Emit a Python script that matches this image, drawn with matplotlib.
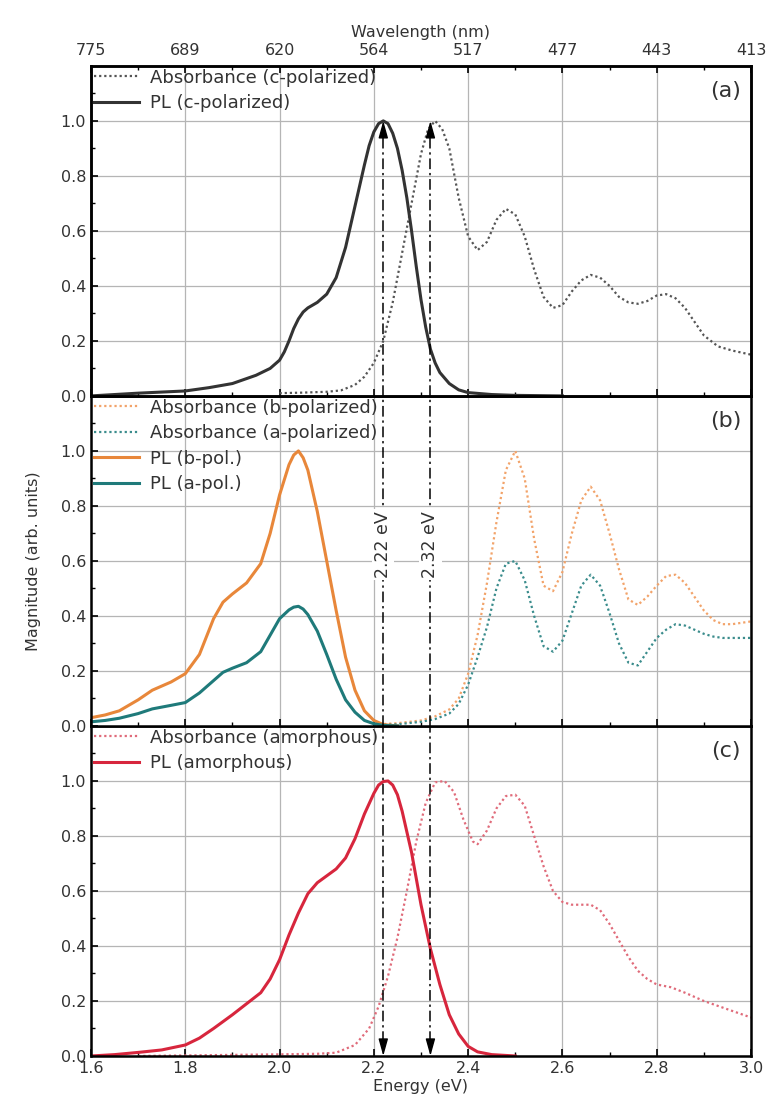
import numpy as np
import matplotlib.pyplot as plt
from matplotlib.ticker import FormatStrFormatter

# -----------------------------
# data (energy in eV, normalised magnitude)
# -----------------------------
# panel (a): c-polarized
E_pl_a = [1.60, 1.65, 1.70, 1.75, 1.80, 1.85, 1.90, 1.95, 1.98, 2.00, 2.01, 2.02, 2.03, 2.04,
          2.05, 2.06, 2.08, 2.10, 2.12, 2.14, 2.16, 2.18, 2.19, 2.20, 2.21, 2.22, 2.23, 2.24,
          2.25, 2.26, 2.27, 2.28, 2.29, 2.30, 2.31, 2.32, 2.33, 2.34, 2.36, 2.38, 2.40, 2.45,
          2.50, 2.60]
pl_c = [0.000, 0.005, 0.010, 0.014, 0.018, 0.030, 0.045, 0.075, 0.100, 0.130, 0.160, 0.200,
        0.245, 0.280, 0.305, 0.320, 0.340, 0.370, 0.430, 0.540, 0.690, 0.840, 0.910, 0.960,
        0.990, 1.000, 0.990, 0.955, 0.900, 0.820, 0.720, 0.600, 0.470, 0.350, 0.250, 0.170,
        0.120, 0.085, 0.045, 0.022, 0.012, 0.005, 0.002, 0.000]

E_abs_a = [2.00, 2.05, 2.10, 2.13, 2.16, 2.18, 2.20, 2.22, 2.24, 2.26, 2.28, 2.30, 2.315, 2.33,
           2.345, 2.36, 2.38, 2.40, 2.42, 2.44, 2.46, 2.48, 2.50, 2.52, 2.54, 2.56, 2.58, 2.60,
           2.62, 2.64, 2.66, 2.68, 2.70, 2.72, 2.74, 2.76, 2.78, 2.80, 2.82, 2.84, 2.86, 2.88,
           2.90, 2.93, 2.96, 3.00]
abs_c = [0.010, 0.012, 0.015, 0.020, 0.040, 0.070, 0.120, 0.200, 0.340, 0.520, 0.700, 0.880,
         0.970, 1.000, 0.970, 0.900, 0.720, 0.580, 0.530, 0.560, 0.640, 0.680, 0.660, 0.580,
         0.460, 0.360, 0.320, 0.330, 0.380, 0.420, 0.440, 0.430, 0.400, 0.360, 0.340, 0.335,
         0.345, 0.365, 0.370, 0.355, 0.320, 0.270, 0.220, 0.180, 0.165, 0.150]

# panel (b): b- and a-polarized
E_pl_b = [1.60, 1.63, 1.66, 1.70, 1.73, 1.77, 1.80, 1.83, 1.86, 1.88, 1.90, 1.93, 1.96, 1.98,
          2.00, 2.02, 2.03, 2.04, 2.05, 2.06, 2.08, 2.10, 2.12, 2.14, 2.16, 2.18, 2.20, 2.22,
          2.25]
pl_b = [0.030, 0.040, 0.055, 0.095, 0.130, 0.160, 0.190, 0.260, 0.390, 0.450, 0.480, 0.520,
        0.590, 0.700, 0.840, 0.950, 0.985, 1.000, 0.975, 0.930, 0.780, 0.600, 0.420, 0.250,
        0.130, 0.055, 0.020, 0.005, 0.000]
pl_a = [0.015, 0.020, 0.028, 0.045, 0.062, 0.075, 0.085, 0.120, 0.165, 0.195, 0.210, 0.230,
        0.270, 0.330, 0.390, 0.422, 0.432, 0.435, 0.425, 0.405, 0.345, 0.260, 0.170, 0.095,
        0.050, 0.020, 0.008, 0.002, 0.000]

E_abs_b = [2.20, 2.25, 2.30, 2.33, 2.36, 2.38, 2.40, 2.42, 2.44, 2.46, 2.48, 2.50, 2.52, 2.54,
           2.56, 2.58, 2.60, 2.62, 2.64, 2.66, 2.68, 2.70, 2.72, 2.74, 2.76, 2.78, 2.80, 2.82,
           2.84, 2.86, 2.88, 2.90, 2.92, 2.94, 2.96, 2.98, 3.00]
abs_b = [0.005, 0.010, 0.020, 0.035, 0.060, 0.100, 0.190, 0.330, 0.520, 0.740, 0.930, 1.000,
         0.900, 0.680, 0.510, 0.490, 0.560, 0.700, 0.820, 0.870, 0.820, 0.700, 0.570, 0.460,
         0.440, 0.470, 0.510, 0.545, 0.550, 0.520, 0.470, 0.420, 0.385, 0.370, 0.370, 0.375,
         0.380]
abs_a = [0.003, 0.006, 0.015, 0.025, 0.045, 0.080, 0.150, 0.250, 0.360, 0.500, 0.590, 0.600,
         0.530, 0.400, 0.290, 0.270, 0.310, 0.410, 0.510, 0.550, 0.510, 0.410, 0.300, 0.230,
         0.220, 0.270, 0.320, 0.350, 0.370, 0.365, 0.350, 0.335, 0.325, 0.320, 0.320, 0.320,
         0.320]

# panel (c): amorphous
E_pl_c = [1.60, 1.65, 1.70, 1.75, 1.80, 1.83, 1.86, 1.90, 1.93, 1.96, 1.98, 2.00, 2.02, 2.04,
          2.06, 2.08, 2.10, 2.12, 2.14, 2.16, 2.18, 2.20, 2.21, 2.22, 2.23, 2.24, 2.25, 2.26,
          2.28, 2.30, 2.32, 2.34, 2.36, 2.38, 2.40, 2.42, 2.45, 2.50]
pl_am = [0.000, 0.005, 0.013, 0.022, 0.040, 0.065, 0.100, 0.150, 0.190, 0.230, 0.280, 0.350,
         0.440, 0.520, 0.590, 0.630, 0.655, 0.680, 0.720, 0.790, 0.880, 0.955, 0.985, 0.998,
         1.000, 0.985, 0.950, 0.890, 0.740, 0.550, 0.390, 0.260, 0.150, 0.080, 0.035, 0.015,
         0.005, 0.000]

E_abs_c = [1.70, 1.80, 1.90, 2.00, 2.08, 2.12, 2.16, 2.19, 2.21, 2.23, 2.25, 2.27, 2.29, 2.31,
           2.33, 2.35, 2.37, 2.39, 2.41, 2.42, 2.44, 2.46, 2.48, 2.50, 2.52, 2.54, 2.56, 2.58,
           2.60, 2.62, 2.64, 2.66, 2.68, 2.70, 2.72, 2.74, 2.76, 2.78, 2.80, 2.83, 2.86, 2.90,
           2.95, 3.00]
abs_am = [0.000, 0.002, 0.004, 0.006, 0.008, 0.012, 0.040, 0.100, 0.180, 0.290, 0.430, 0.600,
          0.780, 0.920, 0.995, 1.000, 0.960, 0.860, 0.780, 0.770, 0.820, 0.900, 0.945, 0.950,
          0.910, 0.800, 0.690, 0.600, 0.560, 0.550, 0.550, 0.550, 0.530, 0.480, 0.420, 0.360,
          0.310, 0.280, 0.260, 0.250, 0.230, 0.200, 0.170, 0.140]

# band edge markers and tick labels
E_marks = [2.22, 2.32]
mark_labels = ['2.22 eV', '2.32 eV']
E_ticks = [1.6, 1.8, 2.0, 2.2, 2.4, 2.6, 2.8, 3.0]
wl_labels = ['775', '689', '620', '564', '517', '477', '443', '413']

# -----------------------------
# figure
# -----------------------------
plt.rcParams['font.family'] = 'DejaVu Sans'
plt.rcParams['font.size'] = 11.5
txt = '#333333'

fig = plt.figure(figsize=(7.7, 11.09), dpi=100)
left, width = 0.1182, 0.8571
h = 0.2976
bottom = 0.0478
ax_c = fig.add_axes([left, bottom, width, h])
ax_b = fig.add_axes([left, bottom + h, width, h], sharex=ax_c)
ax_a = fig.add_axes([left, bottom + 2 * h, width, h], sharex=ax_c)

dot = (0, (1, 1.3))

ax_a.plot(E_abs_a, abs_c, color='#555555', ls=dot, lw=1.6, label='Absorbance (c-polarized)')
ax_a.plot(E_pl_a, pl_c, color='#333333', lw=2.2, label='PL (c-polarized)')

ax_b.plot(E_abs_b, abs_b, color='#f2a36a', ls=dot, lw=1.6, label='Absorbance (b-polarized)')
ax_b.plot(E_abs_b, abs_a, color='#3a8c8c', ls=dot, lw=1.6, label='Absorbance (a-polarized)')
ax_b.plot(E_pl_b, pl_b, color='#e8873a', lw=2.2, label='PL (b-pol.)')
ax_b.plot(E_pl_b, pl_a, color='#1f7a7a', lw=2.2, label='PL (a-pol.)')

ax_c.plot(E_abs_c, abs_am, color='#e06b7a', ls=dot, lw=1.6, label='Absorbance (amorphous)')
ax_c.plot(E_pl_c, pl_am, color='#d7263d', lw=2.2, label='PL (amorphous)')

# ── dash-dot markers for the two energies ─────────────────────────────
dd = (0, (7, 2.5, 1.5, 2.5))
head = dict(arrowstyle='-|>,head_length=0.9,head_width=0.25', color='black', lw=1.0,
            shrinkA=0, shrinkB=0)
for x, lab in zip(E_marks, mark_labels):
    ax_a.plot([x, x], [0, 0.95], color='black', ls=dd, lw=1.1, zorder=4)
    ax_a.annotate('', xy=(x, 1.0), xytext=(x, 0.94), arrowprops=head, zorder=5)
    ax_b.plot([x, x], [0, 1.2], color='black', ls=dd, lw=1.1, zorder=4)
    ax_b.text(x, 0.66, lab, rotation=90, ha='center', va='center', color=txt, fontsize=12.5,
              bbox=dict(facecolor='white', edgecolor='none', pad=1.5), zorder=6)
    ax_c.plot([x, x], [0.05, 1.2], color='black', ls=dd, lw=1.1, zorder=4)
    ax_c.annotate('', xy=(x, 0.0), xytext=(x, 0.06), arrowprops=head, zorder=5)

# ── axes styling ──────────────────────────────────────────────────────
for ax, tag in zip([ax_a, ax_b, ax_c], ['(a)', '(b)', '(c)']):
    ax.set_xlim(1.6, 3.0)
    ax.set_ylim(0, 1.2)
    ax.set_yticks([0.0, 0.2, 0.4, 0.6, 0.8, 1.0])
    ax.set_yticks(np.arange(0.1, 1.2, 0.2), minor=True)
    ax.set_xticks(E_ticks)
    ax.set_xticks(np.arange(1.7, 3.0, 0.2), minor=True)
    ax.yaxis.set_major_formatter(FormatStrFormatter('%.1f'))
    ax.grid(True, which='major', color='#b5b5b5', lw=0.9)
    ax.set_axisbelow(True)
    ax.tick_params(which='both', direction='in', colors='black', labelcolor=txt,
                   top=False, right=False)
    ax.tick_params(which='major', length=5, width=1.2)
    ax.tick_params(which='minor', length=3, width=1.0)
    for sp in ax.spines.values():
        sp.set_linewidth(1.8)
    ax.text(0.985, 0.925, tag, transform=ax.transAxes, ha='right', va='center',
            fontsize=16, color=txt)
    ax.legend(loc='upper left', frameon=False, borderaxespad=0.0, borderpad=0.15,
              fontsize=13, handlelength=2.5, handletextpad=0.6, labelspacing=0.42,
              labelcolor=txt)

ax_a.tick_params(labelbottom=False)
ax_b.tick_params(labelbottom=False)
ax_c.xaxis.set_major_formatter(FormatStrFormatter('%.1f'))
ax_c.set_xlabel('Energy (eV)', color=txt, labelpad=2)
ax_b.set_ylabel('Magnitude (arb. units)', color=txt, labelpad=14)

# top wavelength axis
ax_top = ax_a.twiny()
ax_top.set_xlim(1.6, 3.0)
ax_top.set_xticks(E_ticks)
ax_top.set_xticklabels(wl_labels)
ax_top.set_xticks(np.arange(1.7, 3.0, 0.2), minor=True)
ax_top.tick_params(which='both', direction='in', labelcolor=txt)
ax_top.tick_params(which='major', length=5, width=1.2, pad=6)
ax_top.tick_params(which='minor', length=3, width=1.0)
ax_top.set_xlabel('Wavelength (nm)', color=txt, labelpad=4)
for sp in ax_top.spines.values():
    sp.set_linewidth(1.8)

fig.savefig('out.png', dpi=100)
